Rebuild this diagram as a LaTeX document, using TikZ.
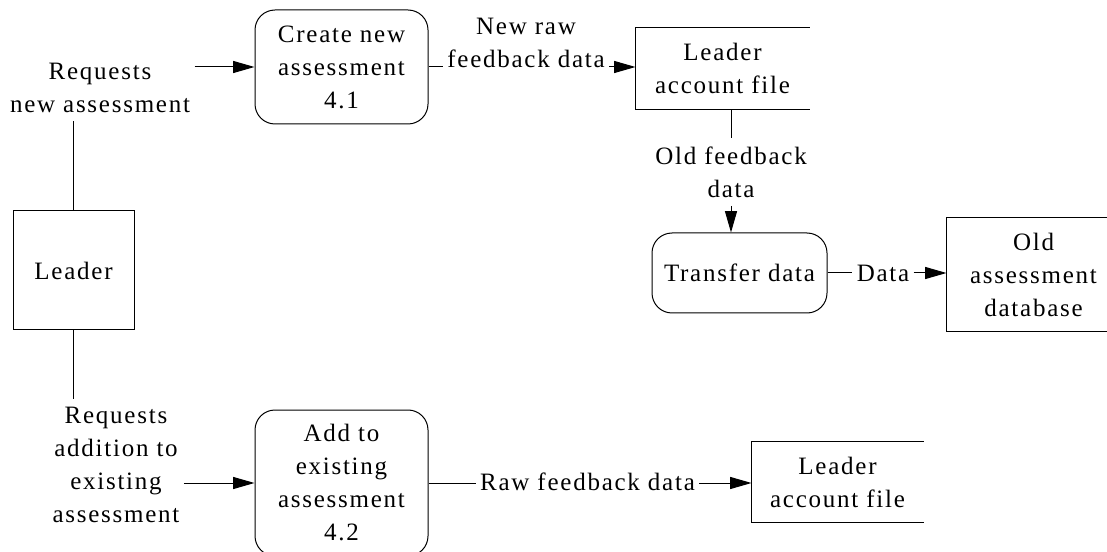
\documentclass[tikz,border=0pt]{standalone}
\usepackage{fontspec}
\setmainfont{Liberation Serif}[LetterSpace=7]
\usetikzlibrary{arrows.meta}

\begin{document}
\begin{tikzpicture}[
  x=0.75pt, y=-0.75pt, line width=0.75pt,
  every node/.style={font=\fontsize{18.75}{24.75}\selectfont, inner sep=0pt},
  proc/.style={draw, rounded corners=15pt, align=center, minimum width=129.75pt},
  ext/.style={draw, align=center},
  store/.style={align=center},
  lbl/.style={align=center, inner xsep=3pt, inner ysep=6pt},
  arr/.style={-{Triangle[length=16pt,width=9pt]}}
]
\clip (0,0) rectangle (1107,552);

\node[ext, minimum width=90.75pt, minimum height=89.25pt] (leader) at (73.5,270.5) {Leader};
\node[proc, minimum height=85.5pt] (create) at (341.5,67) {Create new\\assessment\\4.1};
\node[store, minimum width=129.75pt, minimum height=60.75pt] (ds1) at (722.5,68.5) {Leader\\account file};
\node[proc, minimum width=131.25pt, minimum height=60pt] (trans) at (739.5,273) {Transfer data};
\node[store, minimum width=129.75pt, minimum height=84.75pt] (olddb) at (1033.5,274.5) {Old\\assessment\\database};
\node[proc, minimum height=109.5pt] (add) at (341.5,483) {Add to\\existing\\assessment\\4.2};
\node[store, minimum width=128.25pt, minimum height=60pt] (ds2) at (837.5,482) {Leader\\account file};

% open data stores
\draw (ds1.north east) -- (ds1.north west) -- (ds1.south west) -- (ds1.south east);
\draw (olddb.north east) -- (olddb.north west) -- (olddb.south west) -- (olddb.south east);
\draw (ds2.north east) -- (ds2.north west) -- (ds2.south west) -- (ds2.south east);

% flow labels
\node[lbl] (lreqnew) at (100,88) {Requests\\new assessment};
\node[lbl] (lnewraw) at (526,43) {New raw\\feedback data};
\node[lbl] (lold) at (731,172) {Old feedback\\data};
\node[lbl] (ldata) at (883,273) {Data};
\node[lbl] (lreqadd) at (116,465) {Requests\\addition to\\existing\\assessment};
\node[lbl] (lraw) at (587.5,482) {Raw feedback data};

\draw (leader.north) -- (leader.north |- lreqnew.south);
\draw[arr] (lreqnew.east |- create.west) -- (create.west);
\draw (create.east) -- (create.east -| lnewraw.west);
\draw[arr] (lnewraw.east |- create.east) -- (ds1.west |- create.east);
\draw (lold.north |- ds1.south) -- (lold.north);
\draw[arr] (lold.south) -- (lold.south |- trans.north);
\draw (trans.east) -- (trans.east -| ldata.west);
\draw[arr] (ldata.east |- trans.east) -- (olddb.west |- trans.east);
\draw (leader.south) -- (leader.south |- lreqadd.north);
\draw[arr] (lreqadd.east |- add.west) -- (add.west);
\draw (add.east) -- (add.east -| lraw.west);
\draw[arr] (lraw.east |- add.east) -- (ds2.west |- add.east);
\end{tikzpicture}
\end{document}
